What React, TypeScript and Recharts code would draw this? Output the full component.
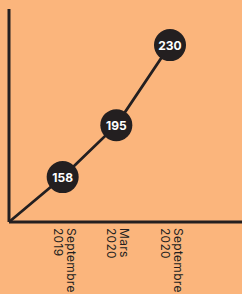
import React from "react";
import { LineChart, Line, XAxis, YAxis } from "recharts";

const periods = ["", "Septembre 2019", "Mars 2020", "Septembre 2020"];
const counts = [0, 158, 195, 230];

const data = periods.map((period, i) => ({ period, count: counts[i] }));

const INK = "#231f20";
const BG = "#fbb57c";
const FONT = "Inter, 'Noto Sans', sans-serif";

// minimal d3-style power scale, the original stretches the top of the axis
function powScale(exponent: number) {
  let dom = [0, 1];
  let rng = [0, 1];
  const f = (v: number) => Math.pow(Math.max(Number(v), 0), exponent);
  const scale: any = (v: number) => {
    const t = (f(v) - f(dom[0])) / (f(dom[1]) - f(dom[0]));
    return rng[0] + t * (rng[1] - rng[0]);
  };
  scale.domain = (d?: any[]) => {
    if (d === undefined) return dom.slice();
    dom = d.map(Number);
    return scale;
  };
  scale.range = (r?: any[]) => {
    if (r === undefined) return rng.slice();
    rng = r.map(Number);
    return scale;
  };
  scale.copy = () => powScale(exponent).domain(dom).range(rng);
  scale.ticks = () => dom.slice();
  scale.invert = (y: number) => {
    const t = (y - rng[0]) / (rng[1] - rng[0]);
    return Math.pow(f(dom[0]) + t * (f(dom[1]) - f(dom[0])), 1 / exponent);
  };
  scale.clamp = () => scale;
  scale.nice = () => scale;
  return scale;
}

function PeriodTick({ x, y, payload }: any) {
  if (!payload || !payload.value) return <g />;
  const [word, year] = String(payload.value).split(" ");
  return (
    <g transform={`translate(${x},${y + 6}) rotate(90)`}>
      <text
        x={0}
        y={0}
        textAnchor="start"
        fill={INK}
        fontFamily={FONT}
        fontSize={12}
        letterSpacing={0.3}
      >
        <tspan x={0} y={-4}>{word}</tspan>
        <tspan x={0} y={9}>{year}</tspan>
      </text>
    </g>
  );
}

function CountDot({ cx, cy, payload, index }: any) {
  if (!payload || !payload.count) return <g key={`dot-${index}`} />;
  return (
    <g key={`dot-${index}`}>
      <circle cx={cx} cy={cy} r={16} fill={INK} />
      <text
        x={cx}
        y={cy}
        dy={4.5}
        textAnchor="middle"
        fill="#fff"
        fontFamily={FONT}
        fontSize={12}
        fontWeight={700}
      >
        {payload.count}
      </text>
    </g>
  );
}

export default function App() {
  return (
    <div
      style={{
        position: "absolute",
        left: 0,
        top: 0,
        width: 242,
        height: 294,
        background: BG,
      }}
    >
      <LineChart
        width={242}
        height={294}
        data={data}
        margin={{ top: 9, right: 0, left: 8, bottom: 0 }}
      >
        <XAxis
          dataKey="period"
          height={72}
          interval={0}
          padding={{ left: 0, right: 72 }}
          tickLine={false}
          tickSize={0}
          tickMargin={0}
          axisLine={{ stroke: INK, strokeWidth: 3 }}
          tick={<PeriodTick />}
        />
        <YAxis
          type="number"
          domain={[0, 242]}
          scale={powScale(3.65)}
          width={1}
          tick={false}
          tickLine={false}
          axisLine={{ stroke: INK, strokeWidth: 3 }}
        />
        <Line
          type="linear"
          dataKey="count"
          stroke={INK}
          strokeWidth={2.8}
          dot={CountDot}
          activeDot={false}
          isAnimationActive={false}
        />
      </LineChart>
    </div>
  );
}
